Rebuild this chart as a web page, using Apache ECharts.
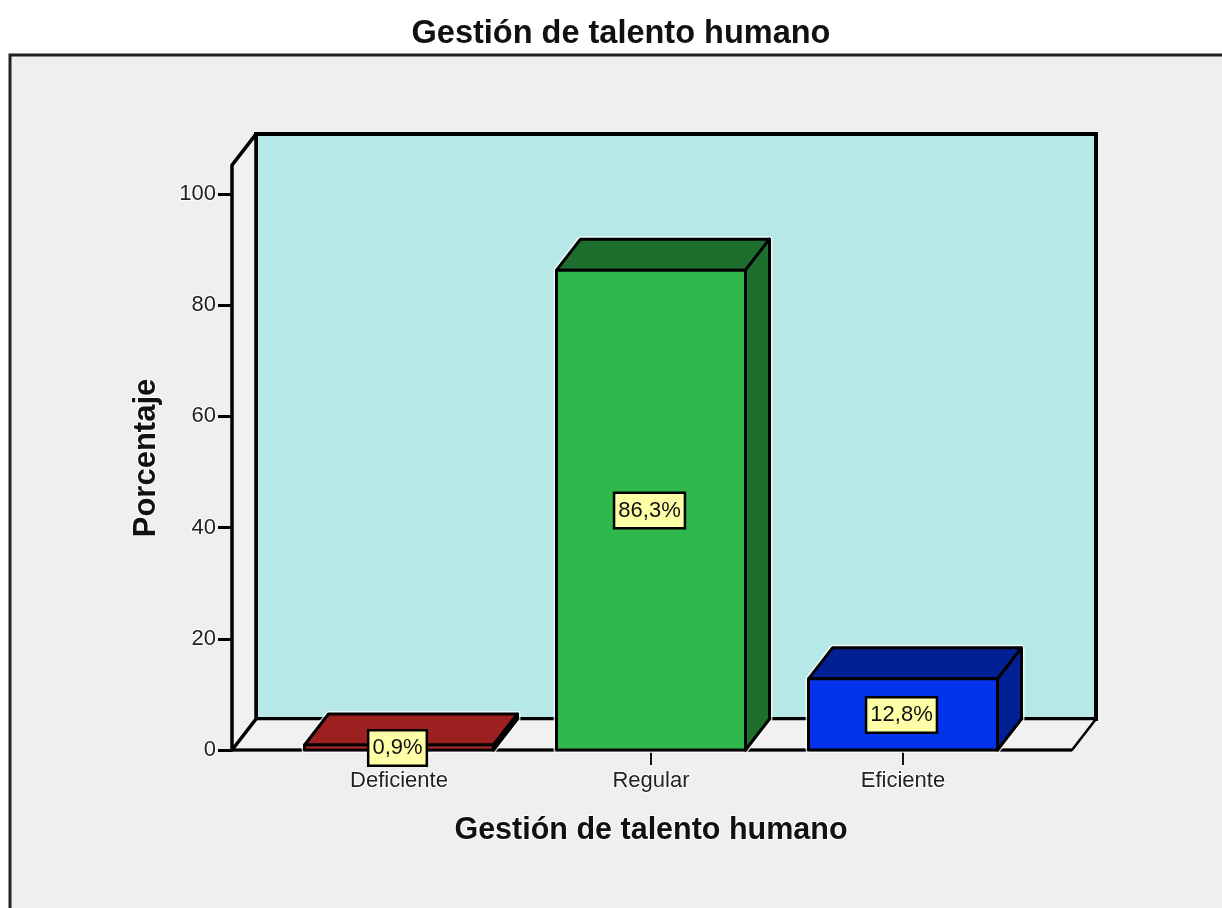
<!DOCTYPE html>
<html>
<head>
<meta charset="utf-8">
<style>html,body{margin:0;padding:0;background:#fff}#c{width:1222px;height:908px}</style>
<script src="https://cdn.jsdelivr.net/npm/echarts@6/dist/echarts.min.js"></script>
</head>
<body>
<div id="c"></div>
<script>
const titleText = 'Gestión de talento humano';
const xAxisName = 'Gestión de talento humano';
const yAxisName = 'Porcentaje';
const categories = ['Deficiente', 'Regular', 'Eficiente'];
const percentages = [0.9, 86.3, 12.8];
const frontColors = ['#b82c2a', '#30b84c', '#0433ee'];
const darkColors = ['#9c2020', '#1e6f2e', '#012094'];

const FONT = '"Liberation Sans", Arial, sans-serif';
const WALL_TOP = 105.2;
const DX = 24, DY = -31;
const INK = '#000';
const halo = { textBorderColor: 'rgba(255,255,255,0.85)', textBorderWidth: 2 };

function wallItem(params, api) {
  const o = api.coord([0, 0]);
  const band = api.size([1, 0])[0];
  const right = api.coord([categories.length - 1, 0]);
  const xl = o[0] - band / 2 - 41;
  const xr = right[0] + band / 2 + 43;
  const yb = o[1];
  const yt = api.coord([0, WALL_TOP])[1];
  const poly = (pts, fill, lw) => ({
    type: 'polygon', shape: { points: pts },
    style: { fill: fill, stroke: INK, lineWidth: lw, lineJoin: 'round' }
  });
  const line = (a, b, lw) => ({
    type: 'line', shape: { x1: a[0], y1: a[1], x2: b[0], y2: b[1] },
    style: { stroke: INK, lineWidth: lw, fill: null }
  });
  return {
    type: 'group',
    children: [
      { type: 'rect', shape: { x: xl + DX, y: yt + DY, width: xr - xl, height: yb - yt },
        style: { fill: '#b6e8e8', stroke: INK, lineWidth: 4 } },
      poly([[xl, yb], [xl + DX, yb + DY], [xr + DX, yb + DY], [xr, yb]], '#f1f1f1', 2.5),
      poly([[xl, yt], [xl + DX, yt + DY], [xl + DX, yb + DY], [xl, yb]], '#f1f1f1', 3.5),
      line([xl, yb], [xr, yb], 3)
    ]
  };
}

function barItem(params, api) {
  const i = api.value(0), v = api.value(1);
  const base = api.coord([i, 0]);
  const top = api.coord([i, v]);
  const w = api.size([1, 0])[0] * 0.75;
  const x0 = base[0] - w / 2, x1 = base[0] + w / 2;
  const yb = base[1], yt = top[1];
  const mid = api.coord([i, v / 2]);
  const stroke = { stroke: INK, lineWidth: 3, lineJoin: 'round' };
  const outline = [[x0, yb], [x0, yt], [x0 + DX, yt + DY], [x1 + DX, yt + DY], [x1 + DX, yb + DY], [x1, yb]];
  return {
    type: 'group',
    children: [
      { type: 'polygon', shape: { points: outline }, style: { fill: '#fff', stroke: 'rgba(255,255,255,0.75)', lineWidth: 6, lineJoin: 'round' } },
      { type: 'polygon', shape: { points: [[x0, yt], [x0 + DX, yt + DY], [x1 + DX, yt + DY], [x1, yt]] },
        style: Object.assign({ fill: darkColors[i] }, stroke) },
      { type: 'polygon', shape: { points: [[x1, yt], [x1 + DX, yt + DY], [x1 + DX, yb + DY], [x1, yb]] },
        style: Object.assign({ fill: darkColors[i] }, stroke) },
      { type: 'rect', shape: { x: x0, y: yt, width: w, height: yb - yt },
        style: Object.assign({ fill: frontColors[i] }, stroke) },
      { type: 'text', x: base[0] - 1.5, y: mid[1] + 0.5,
        style: {
          text: v.toFixed(1).replace('.', ',') + '%',
          font: '22px ' + FONT, fill: '#111', align: 'center', verticalAlign: 'middle',
          backgroundColor: '#ffffa8', borderColor: INK, borderWidth: 2.5,
          padding: [6, 3, 5, 3]
        } }
    ]
  };
}

const chart = echarts.init(document.getElementById('c'), null, { renderer: 'canvas' });
chart.setOption({
  animation: false,
  backgroundColor: '#fff',
  title: {
    text: titleText, left: 616, top: 13, textAlign: 'center',
    textStyle: { fontFamily: FONT, fontSize: 32.5, fontWeight: 'bold', color: '#111' }
  },
  graphic: [{
    type: 'rect', z: -10, silent: true,
    shape: { x: 10, y: 55, width: 1240, height: 880 },
    style: { fill: '#efefef', stroke: '#222', lineWidth: 3 }
  }],
  grid: { left: 273, top: 194, width: 756, height: 556 },
  xAxis: {
    type: 'category', data: categories, z: 1,
    name: xAxisName, nameLocation: 'middle', nameGap: 65,
    nameTextStyle: Object.assign({ fontFamily: FONT, fontSize: 30.5, fontWeight: 'bold', color: '#111' }, halo),
    axisLine: { show: false },
    axisTick: { show: true, alignWithLabel: true, length: 15, lineStyle: { color: '#111', width: 2 } },
    axisLabel: Object.assign({ margin: 20, fontFamily: FONT, fontSize: 22, color: '#222' }, halo)
  },
  yAxis: {
    type: 'value', min: 0, max: 100, interval: 20, offset: 41, z: 1,
    name: yAxisName, nameLocation: 'middle', nameGap: 70, nameRotate: 90,
    nameTextStyle: Object.assign({ fontFamily: FONT, fontSize: 31, fontWeight: 'bold', color: '#111', padding: [0, 0, 0, 28] }, halo),
    axisLine: { show: false },
    axisTick: { show: true, length: 14, lineStyle: { color: '#000', width: 3 } },
    axisLabel: Object.assign({ margin: 16, fontFamily: FONT, fontSize: 22, color: '#222' }, halo),
    splitLine: { show: false }
  },
  series: [
    { type: 'custom', z: 0, clip: false, silent: true, renderItem: wallItem, data: [[0, 0]], encode: { x: 0, y: 1 } },
    { type: 'custom', z: 3, clip: false, renderItem: barItem,
      data: percentages.map((v, i) => [i, v]), encode: { x: 0, y: 1 } }
  ]
});
</script>
</body>
</html>
